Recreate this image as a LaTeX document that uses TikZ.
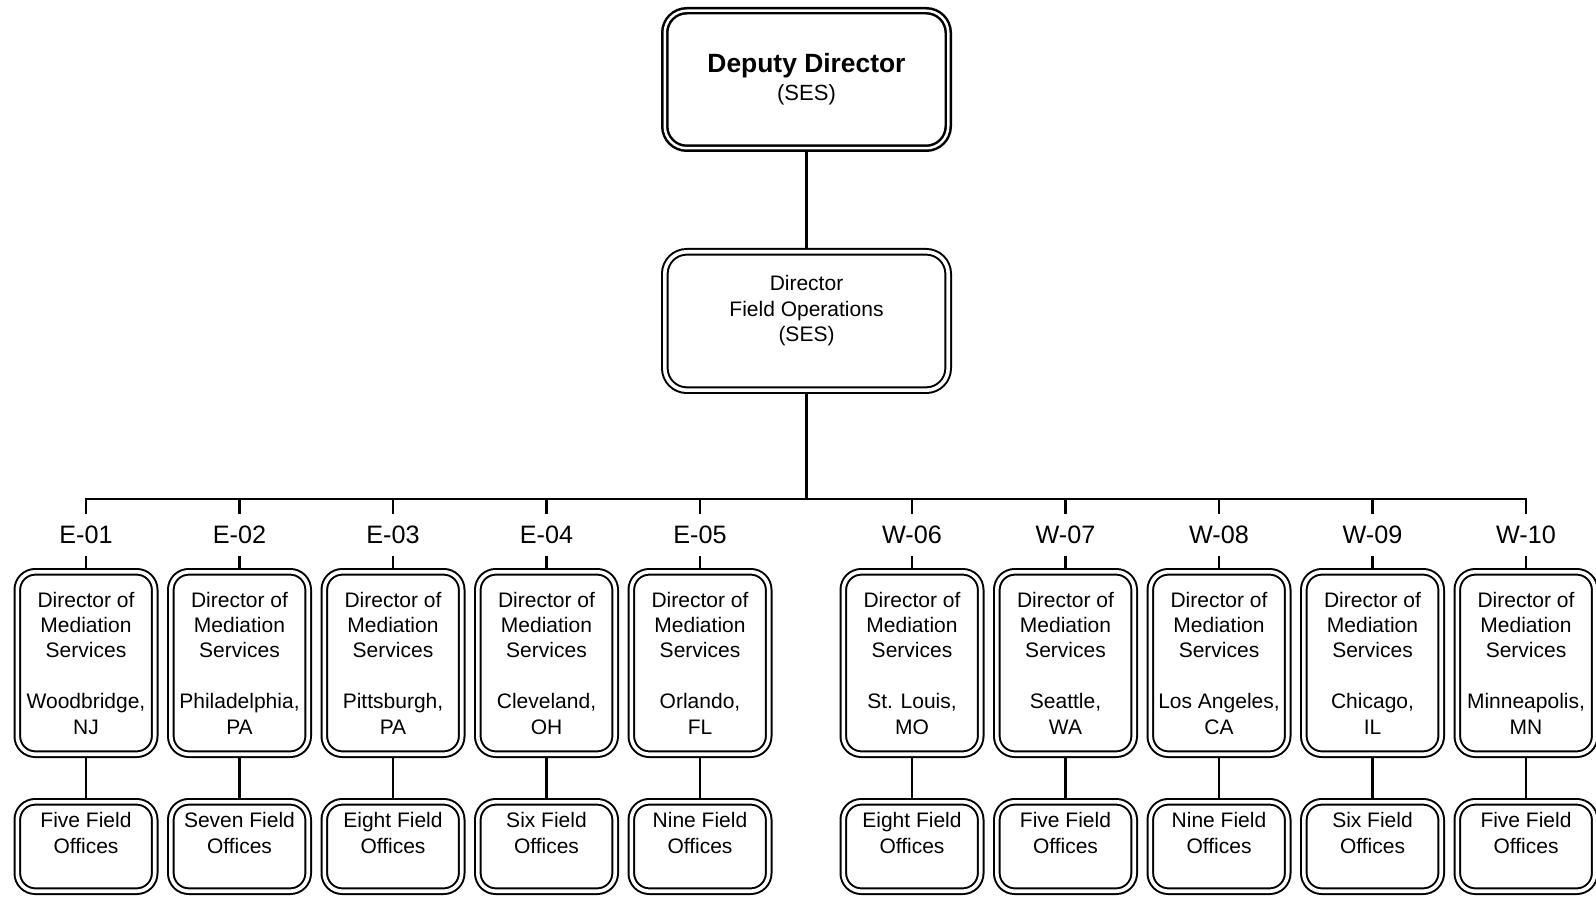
\documentclass[tikz,border=0pt]{standalone}
\usepackage{fontspec}
\setmainfont{Liberation Sans}
\usetikzlibrary{positioning,backgrounds}
\tikzset{
	orgbox/.style={
		draw, fill=white,
		rounded corners=9pt,
		line width=1pt, double, double distance=1.8pt,
		align=center, inner sep=0pt,
		font=\fontsize{10.5}{12.7}\selectfont},
	topbox/.style={orgbox, rounded corners=11pt,
		line width=1.25pt, double distance=1.25pt,
		minimum width=141.75pt, minimum height=68.75pt,
		font=\fontsize{11}{14}\selectfont},
	dfobox/.style={orgbox, rounded corners=11pt,
		minimum width=141.7pt, minimum height=69.2pt, text depth=12.3pt},
	regbox/.style={orgbox, minimum width=68.7pt, minimum height=91.2pt, text depth=0pt},
	officebox/.style={orgbox, minimum width=68.7pt, minimum height=44.7pt, text depth=13.5pt},
	regionlabel/.style={inner xsep=0pt, inner ysep=6pt, font=\fontsize{12.6}{14}\selectfont},
	link/.style={draw, line width=1.3pt},
}
\begin{document}
\begin{tikzpicture}[x=0.5pt, y=-0.5pt]
	\useasboundingbox (0,0) rectangle (1596,898);

	% top of the chart
	\node[topbox] (dd) at (806.5,79.5)
		{{\bfseries\fontsize{13.2}{14}\selectfont Deputy Director}\\(SES)};
	\node[dfobox] (dfo) at (806.5,321) {Director\\Field Operations\\(SES)};
	\coordinate (bus) at (806.5,499);

	% regions
	\foreach \reg/\px/\city/\st/\offices in {
		E-01/86/Woodbridge/NJ/Five, E-02/239.5/Philadelphia/PA/Seven,
		E-03/393/Pittsburgh/PA/Eight, E-04/546.5/Cleveland/OH/Six,
		E-05/700/Orlando/FL/Nine, W-06/912/St. Louis/MO/Eight,
		W-07/1065.5/Seattle/WA/Five, W-08/1219/Los Angeles/CA/Nine,
		W-09/1372.5/Chicago/IL/Six, W-10/1526/Minneapolis/MN/Five}
	{
		\node[regionlabel] (lbl\reg) at (\px,535) {\reg};
		\node[regbox] (dms\reg) at (\px,663)
			{Director of\\Mediation\\Services\\[12.7pt]\city,\\\st};
		\node[officebox] (fo\reg) at (\px,846.5) {\offices{} Field\\Offices};
		\begin{scope}[on background layer]
			\draw[link] (lbl\reg.north) -- (lbl\reg.north |- bus);
			\draw[link] (lbl\reg.south) -- (dms\reg.north);
			\draw[link] (dms\reg.south) -- (fo\reg.north);
		\end{scope}
	}

	\begin{scope}[on background layer]
		\draw[link] (dd.south) -- (dfo.north);
		\draw[link] (dfo.south) -- (bus);
		\draw[link] (lblE-01.north) |- (bus) -| (lblW-10.north);
	\end{scope}
\end{tikzpicture}
\end{document}
